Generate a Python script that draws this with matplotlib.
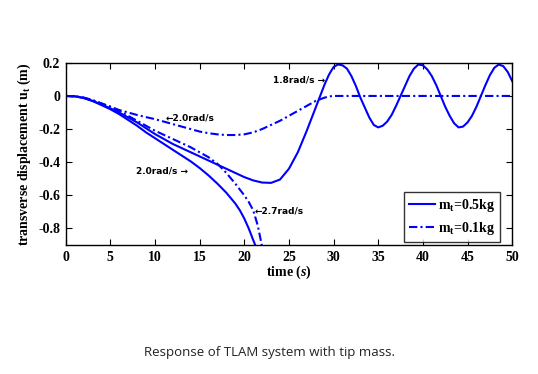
import matplotlib.pyplot as plt

# tip mass 0.5 kg, 1.8 rad/s (settles into oscillation)
t_a = [0, 1, 2, 3, 4, 5, 6, 7, 8, 9, 10, 11, 12, 13, 14, 15, 16, 17, 18, 19, 20, 21, 22, 23, 24, 25,
       26, 27, 28, 28.5, 29, 29.5, 30, 30.5, 31, 31.5, 32, 32.5, 33, 33.5, 34, 34.5, 35, 35.5, 36,
       36.5, 37, 37.5, 38, 38.5, 39, 39.5, 40, 40.5, 41, 41.5, 42, 42.5, 43, 43.5, 44, 44.5, 45,
       45.5, 46, 46.5, 47, 47.5, 48, 48.5, 49, 49.5, 50]
u_a = [0, -0.002, -0.012, -0.03, -0.05, -0.075, -0.1, -0.13, -0.16, -0.195, -0.23, -0.26, -0.29,
       -0.315, -0.34, -0.365, -0.39, -0.415, -0.44, -0.465, -0.49, -0.51, -0.523, -0.525, -0.505, -0.44,
       -0.34, -0.21, -0.07, 0.0, 0.07, 0.13, 0.175, 0.19, 0.185, 0.165, 0.12, 0.06, -0.01, -0.07,
       -0.13, -0.175, -0.19, -0.18, -0.155, -0.115, -0.06, 0.0, 0.06, 0.12, 0.165, 0.19, 0.185,
       0.16, 0.12, 0.065, 0.0, -0.065, -0.12, -0.165, -0.19, -0.185, -0.16, -0.12, -0.065, 0.0,
       0.065, 0.125, 0.17, 0.19, 0.18, 0.145, 0.09]

# tip mass 0.5 kg, 2.0 rad/s (diverges)
t_b = [0, 1, 2, 3, 4, 5, 6, 7, 8, 9, 10, 11, 12, 13, 14, 15, 16, 17, 18, 19, 19.5, 20, 20.5, 21, 21.3]
u_b = [0, -0.002, -0.012, -0.03, -0.055, -0.08, -0.11, -0.145, -0.18, -0.22, -0.255, -0.29, -0.325,
       -0.36, -0.395, -0.435, -0.48, -0.53, -0.585, -0.65, -0.69, -0.74, -0.8, -0.87, -0.91]

# tip mass 0.1 kg, 2.0 rad/s (returns to zero)
t_c = [0, 1, 2, 3, 4, 5, 6, 7, 8, 9, 10, 11, 12, 13, 14, 15, 16, 17, 18, 19, 20, 21, 22, 23, 24,
       25, 26, 27, 28, 29, 29.5, 30, 50]
u_c = [0, -0.002, -0.01, -0.025, -0.045, -0.065, -0.085, -0.1, -0.115, -0.128, -0.14, -0.155,
       -0.17, -0.185, -0.2, -0.215, -0.225, -0.232, -0.236, -0.236, -0.232, -0.22, -0.2, -0.175,
       -0.15, -0.12, -0.09, -0.06, -0.03, -0.01, -0.003, 0, 0]

# tip mass 0.1 kg, 2.7 rad/s (diverges)
t_d = [0, 1, 2, 3, 4, 5, 6, 7, 8, 9, 10, 11, 12, 13, 14, 15, 16, 17, 18, 19, 20, 20.5, 21, 21.5, 22]
u_d = [0, -0.002, -0.01, -0.025, -0.045, -0.065, -0.09, -0.12, -0.15, -0.18, -0.21, -0.235, -0.26,
       -0.285, -0.31, -0.34, -0.37, -0.41, -0.465, -0.53, -0.6, -0.64, -0.69, -0.78, -0.91]

plt.rcParams['font.family'] = ['Liberation Serif', 'DejaVu Serif']
plt.rcParams['mathtext.fontset'] = 'custom'
plt.rcParams['mathtext.rm'] = 'Liberation Serif:bold'
plt.rcParams['mathtext.it'] = 'Liberation Serif:italic:bold'
plt.rcParams['mathtext.bf'] = 'Liberation Serif:bold'

fig = plt.figure(figsize=(5.38, 3.74), dpi=100)
ax = fig.add_axes([0.122, 0.345, 0.830, 0.487])

blue = '#0000ff'
dd = (4, 1.5, 1, 1.5)
l1, = ax.plot(t_a, u_a, color=blue, lw=1.5, label=r'm$_\mathregular{t}$=0.5kg')
ax.plot(t_b, u_b, color=blue, lw=1.5)
l2, = ax.plot(t_c, u_c, color=blue, lw=1.5, dashes=dd, label=r'm$_\mathregular{t}$=0.1kg')
ax.plot(t_d, u_d, color=blue, lw=1.5, dashes=dd)

ax.set_xlim(0, 50)
ax.set_ylim(-0.9, 0.2)
ax.set_xticks(range(0, 51, 5))
ax.set_yticks([-0.8, -0.6, -0.4, -0.2, 0, 0.2])
ax.set_yticklabels(['-0.8', '-0.6', '-0.4', '-0.2', '0', '0.2'])
ax.tick_params(direction='in', top=True, right=True, length=4, labelsize=10, pad=4)
for lab in ax.get_xticklabels() + ax.get_yticklabels():
    lab.set_fontweight('bold')
for s in ax.spines.values():
    s.set_linewidth(1.0)

ax.set_xlabel(r'time ($s$)', fontsize=10, fontweight='bold', labelpad=0)
ax.set_ylabel(r'transverse displacement u$_\mathregular{t}$ (m)', fontsize=10,
              fontweight='bold', labelpad=4)

ann = dict(fontsize=6.5, fontweight='bold', family=['DejaVu Sans'], va='center')
ax.text(29.0, 0.097, '1.8rad/s \u2192', ha='right', **ann)
ax.text(11.2, -0.133, '\u21902.0rad/s', ha='left', **ann)
ax.text(7.9, -0.453, '2.0rad/s \u2192', ha='left', **ann)
ax.text(21.2, -0.695, '\u21902.7rad/s', ha='left', **ann)

leg = ax.legend(handles=[l1, l2], loc='lower right', bbox_to_anchor=(0.973, 0.016),
                borderaxespad=0, frameon=True, fancybox=False, edgecolor='black',
                handlelength=1.9, handletextpad=0.2, labelspacing=0.45, borderpad=0.35,
                prop={'weight': 'bold', 'size': 10})
leg.get_frame().set_linewidth(1.0)

fig.text(0.5, 0.058, 'Response of TLAM system with tip mass.', ha='center', va='center',
         fontsize=9.5, family='Open Sans', color='#222222')

fig.savefig('out.png', dpi=100)
